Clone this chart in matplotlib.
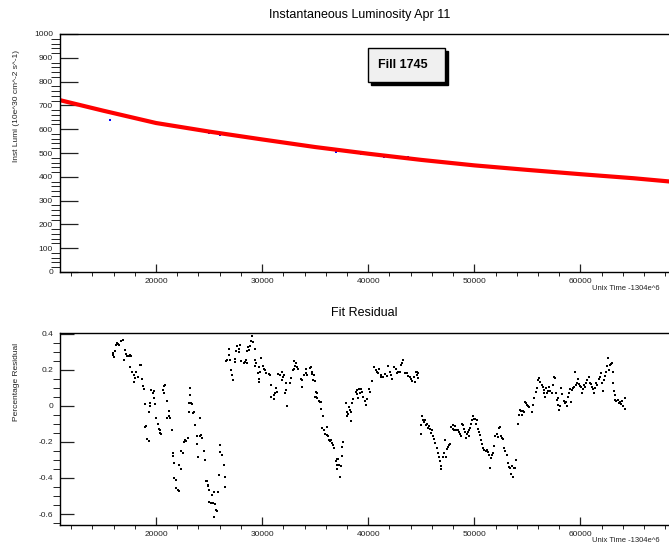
import matplotlib
matplotlib.use("Agg")
import matplotlib.pyplot as plt
from matplotlib.ticker import MultipleLocator, FuncFormatter
from matplotlib.patches import Rectangle

plt.rcParams['font.family'] = ['Liberation Sans', 'DejaVu Sans']
plt.rcParams['axes.unicode_minus'] = False

# fit of the luminosity (red line)
fit_time = [10950, 15000, 20000, 25000, 30000, 35000, 40000, 45000,
            50000, 55000, 60000, 65000, 68470]
fit_lumi = [722, 678, 626, 590, 557, 525, 497, 471, 448, 429, 411, 394, 380]

# measured points that poke out of the fit line (blue)
lumi_time = [15674, 15674, 16930, 22918, 24960, 26064, 29680, 32514, 36926,
             39287, 41487, 43754, 50781, 53142, 60444, 63372]
lumi_val = [639, 672, 661, 600, 583, 577, 560, 538, 505,
            496, 484, 482, 442, 434, 412, 405]

# fit residual in percent
res_time = [
    16871, 16682, 16461, 16304, 16241, 16556, 16147, 15989, 15926, 16052,
    17091, 17185, 17248, 17500, 17626, 17406, 16997, 17563, 18445, 18571,
    17721, 18130, 17878, 18256, 18035, 18665, 17941, 18759, 18822, 19515,
    19767, 19704, 20711, 20869, 20648, 20711, 19830, 21026, 18980, 19452,
    19389, 19924, 19295, 21183, 20019, 21183, 21341, 21026, 19074, 18980,
    20144, 20239, 20333, 20396, 20491, 21498, 19137, 19295,
    23167, 23230, 23072, 23292, 23387, 23072, 23481, 23607, 24174, 23702,
    23859, 24111, 24237, 24331, 22757, 22852, 22663, 22978, 22348, 22537,
    21592, 21592, 23859, 24552, 23922, 24646, 21718, 22191, 22348, 21718,
    21907, 21907, 22033, 22128, 24741, 24867, 24961,
    24804, 24899, 24962, 25277, 25434, 25025, 25214, 25340, 25591, 25654,
    25749, 25434, 25843, 26064, 26064, 26221, 26379, 25969, 26473, 26473,
    29054, 28991, 29117, 28896, 28676, 28739, 28582, 29306, 27952, 27637,
    27795, 27858, 27543, 26851, 26914, 26693, 27008, 26599, 27480, 27417,
    28047, 28267, 28362, 28487, 28582, 27103, 27165, 27228, 29369, 29432,
    29306, 29936, 29684, 29842, 30062, 30156, 30251, 30377, 29621, 29684,
    29747, 30692, 30786, 30881, 31321, 31416, 31259, 31101, 30881, 31101,
    31510, 31730, 31888, 32045, 32203, 31825, 32266, 32140, 32329, 31950,
    32675, 32580, 32990, 33211, 33085, 33305, 32990, 33400, 32895, 33620,
    33778, 33715, 33935, 34092, 34249, 34154, 34469, 34658, 34784, 34879,
    34973,
    34564, 34721, 34816, 34942, 35036, 35194, 35036, 35194, 35351, 35445,
    35571, 35508, 35760, 35666, 35823, 36075, 35886, 36075, 36201, 36296,
    36390, 36516, 36611, 36705, 36768, 37649, 37555, 37019, 37145, 36925,
    37019, 37240, 37460, 37082, 37334, 37555, 37870, 37964, 37964, 38090,
    38279, 38185, 38405, 38500, 38405, 38594, 38814, 38972, 39130, 39287,
    39444, 39224, 38908, 39035, 39538, 39664, 39759, 39916, 40073, 40168,
    40388, 40545, 40703, 40798, 40923, 41018, 41175, 41238, 41427, 41553,
    41742, 41868, 42058, 42184, 42278, 42435, 42593, 42687, 42813, 43002,
    43128, 43222, 43317, 43443, 43632, 43758, 43947, 44073, 44167, 44325,
    44387, 44576, 44702,
    44482, 44639, 44734, 44954, 45049, 44954, 45175, 45269, 45364, 45427,
    45584, 45678, 45741, 45804, 45899, 45993, 46056, 46213, 46308, 46434,
    46528, 46623, 46749, 46843, 46843, 47001, 47158, 47253, 47378, 47473,
    47567, 47693, 47315, 47788, 47945, 48008, 48103, 48197, 48260, 48418,
    48512, 48638, 48733, 48827, 48953, 49048, 49142, 49205, 49268, 49363,
    49457, 49520, 49583, 49677, 49772, 49897, 49992, 50086, 50212, 50149,
    50306, 50401, 50526, 50621, 50715, 50841, 50936, 51093, 51156, 51250,
    51408, 51471, 51565, 51660, 51785, 51880, 51974, 52100, 52195, 52352,
    52415, 52509, 52604, 52730, 52824, 52919, 53044, 53139, 53233, 53359,
    53454, 53548, 53674, 53769, 53863, 53926, 54083, 54178, 54304, 54398,
    54556, 54713, 54808,
    54399, 54462, 54777, 54871, 54966, 55092, 55186, 55407, 55501, 55658,
    55816, 55910, 56036, 56130, 56225, 56351, 56445, 56540, 56603, 56665,
    56760, 56855, 56980, 57075, 57169, 57295, 57390, 57484, 57610, 57705,
    57799, 57862, 57925, 58020, 58114, 58177, 58240, 58429, 58555, 58649,
    58744, 58870, 58964, 59059, 59185, 59122, 59279, 59373, 59499, 59594,
    59688, 59814, 59909, 60003, 60066, 60129, 60224, 60318, 60444, 60538,
    60633, 60759, 60853, 60948, 61073, 61168, 61262, 61388, 61483, 61577,
    61703, 61798, 61892, 62018, 62112, 62207, 62333, 62427, 62521, 62647,
    62742, 62836, 62962, 62584, 63057, 63057, 63151, 63214, 63277, 63371,
    63529, 63592, 63686, 63781, 63907, 64001, 64159, 64222,
]
res_val = [
    0.367, 0.358, 0.345, 0.348, 0.339, 0.335, 0.302, 0.293, 0.283, 0.270,
    0.307, 0.289, 0.278, 0.283, 0.278, 0.274, 0.252, 0.218, 0.224, 0.226,
    0.190, 0.185, 0.172, 0.162, 0.153, 0.147, 0.131, 0.110, 0.091, 0.088,
    0.084, 0.073, 0.110, 0.116, 0.088, 0.073, 0.041, 0.028, 0.010, 0.017,
    -0.002, 0.010, -0.033, -0.028, -0.065, -0.057, -0.070, -0.065, -0.113, -0.117,
    -0.102, -0.128, -0.132, -0.151, -0.158, -0.136, -0.182, -0.195,
    0.097, 0.060, 0.017, 0.013, 0.010, -0.033, -0.039, -0.033, -0.065, -0.108,
    -0.169, -0.169, -0.164, -0.177, -0.188, -0.197, -0.203, -0.177, -0.251, -0.262,
    -0.262, -0.281, -0.214, -0.251, -0.285, -0.299, -0.318, -0.326, -0.350, -0.400,
    -0.411, -0.456, -0.467, -0.474, -0.419, -0.443, -0.536,
    -0.419, -0.437, -0.467, -0.495, -0.480, -0.536, -0.540, -0.541, -0.545, -0.579,
    -0.582, -0.616, -0.476, -0.219, -0.257, -0.275, -0.326, -0.381, -0.396, -0.452,
    0.386, 0.358, 0.352, 0.334, 0.326, 0.307, 0.302, 0.315, 0.339, 0.334,
    0.315, 0.296, 0.302, 0.315, 0.283, 0.255, 0.252, 0.246, 0.259, 0.244,
    0.246, 0.240, 0.244, 0.252, 0.237, 0.200, 0.172, 0.144, 0.252, 0.237,
    0.222, 0.265, 0.214, 0.190, 0.222, 0.203, 0.199, 0.181, 0.181, 0.147,
    0.134, 0.177, 0.172, 0.116, 0.097, 0.078, 0.073, 0.060, 0.051, 0.036,
    0.175, 0.172, 0.185, 0.172, 0.125, 0.144, 0.088, 0.069, -0.002, 0.159,
    0.153, 0.129, 0.246, 0.240, 0.222, 0.214, 0.203, 0.203, 0.196, 0.147,
    0.144, 0.103, 0.172, 0.181, 0.172, 0.203, 0.209, 0.177, 0.144, 0.172,
    0.051,
    0.218, 0.190, 0.144, 0.140, 0.078, 0.073, 0.051, 0.041, 0.028, 0.023,
    0.023, -0.015, -0.057, -0.121, -0.132, -0.117, -0.158, -0.164, -0.169, -0.192,
    -0.195, -0.192, -0.207, -0.220, -0.233, -0.201, -0.229, -0.294, -0.294, -0.307,
    -0.326, -0.326, -0.331, -0.350, -0.393, -0.281, 0.017, -0.033, -0.057, -0.043,
    -0.024, -0.005, -0.033, 0.013, -0.084, 0.036, 0.078, 0.088, 0.092, 0.092,
    0.078, 0.073, 0.066, 0.041, 0.051, 0.028, 0.004, 0.036, 0.092, 0.078,
    0.140, 0.214, 0.196, 0.185, 0.181, 0.203, 0.172, 0.159, 0.162, 0.177,
    0.166, 0.222, 0.185, 0.172, 0.147, 0.214, 0.203, 0.181, 0.185, 0.190,
    0.227, 0.237, 0.255, 0.181, 0.181, 0.166, 0.159, 0.147, 0.140, 0.162,
    0.134, 0.185, 0.181,
    0.185, 0.172, 0.153, -0.108, -0.057, -0.158, -0.080, -0.089, -0.076, -0.108,
    -0.102, -0.121, -0.113, -0.126, -0.151, -0.132, -0.169, -0.182, -0.207, -0.232,
    -0.262, -0.285, -0.307, -0.331, -0.350, -0.285, -0.262, -0.192, -0.238, -0.229,
    -0.220, -0.214, -0.285, -0.117, -0.108, -0.126, -0.132, -0.113, -0.136, -0.132,
    -0.145, -0.158, -0.169, -0.098, -0.108, -0.126, -0.145, -0.177, -0.158, -0.145,
    -0.169, -0.136, -0.121, -0.098, -0.076, -0.057, -0.071, -0.071, -0.076, -0.098,
    -0.126, -0.145, -0.164, -0.188, -0.210, -0.232, -0.244, -0.251, -0.244, -0.257,
    -0.270, -0.344, -0.288, -0.275, -0.262, -0.225, -0.169, -0.158, -0.173, -0.121,
    -0.117, -0.169, -0.177, -0.182, -0.232, -0.251, -0.270, -0.318, -0.337, -0.344,
    -0.378, -0.331, -0.396, -0.344, -0.344, -0.303, -0.102, -0.052, -0.024, -0.028,
    -0.028, -0.033, 0.023,
    -0.028, -0.052, 0.023, 0.017, 0.004, -0.002, -0.009, -0.033, 0.004, 0.041,
    0.078, 0.097, 0.144, 0.153, 0.134, 0.116, 0.106, 0.088, 0.073, 0.051,
    0.097, 0.069, 0.084, 0.106, 0.084, 0.073, 0.116, 0.162, 0.153, 0.073,
    0.032, 0.041, 0.004, -0.024, -0.002, 0.097, 0.065, 0.028, 0.017, 0.023,
    -0.002, 0.051, 0.073, 0.092, 0.088, 0.023, 0.097, 0.106, 0.190, 0.116,
    0.129, 0.147, 0.121, 0.110, 0.103, 0.073, 0.092, 0.116, 0.106, 0.125,
    0.144, 0.159, 0.129, 0.121, 0.106, 0.092, 0.069, 0.097, 0.125, 0.116,
    0.147, 0.162, 0.181, 0.129, 0.084, 0.144, 0.166, 0.185, 0.222, 0.199,
    0.227, 0.233, 0.240, 0.267, 0.190, 0.129, 0.084, 0.060, 0.032, 0.028,
    0.032, 0.017, 0.023, 0.010, 0.028, -0.002, -0.015, 0.041,
]

W, H = 669, 545
fig = plt.figure(figsize=(W / 100, H / 100), dpi=100)


def style_axes(ax, ymaj, ymin, ylen):
    ax.spines['right'].set_visible(False)
    for s in ['top', 'left', 'bottom']:
        ax.spines[s].set_linewidth(1.0)
    ax.xaxis.set_major_locator(MultipleLocator(10000))
    ax.xaxis.set_minor_locator(MultipleLocator(2000))
    ax.yaxis.set_major_locator(MultipleLocator(ymaj))
    ax.yaxis.set_minor_locator(MultipleLocator(ymin))
    ax.tick_params(direction='in', width=0.9, labelsize=6, colors='#222222')
    ax.tick_params(axis='x', which='major', length=6, pad=4)
    ax.tick_params(axis='x', which='minor', length=3)
    ax.tick_params(axis='y', which='major', length=ylen, pad=5)
    ax.tick_params(axis='y', which='minor', length=ylen / 2)
    ax.tick_params(top=False, right=False, which='both')


# --- top pad: luminosity
ax1 = fig.add_axes([60 / W, 1 - 272 / H, 1 - 60 / W + 0.002, (272 - 34) / H])
ax1.plot(lumi_time, lumi_val, 's', color='blue', ms=1.8, mew=0)
ax1.plot(fit_time, fit_lumi, '-', color='red', lw=3)
ax1.set_xlim(10950, 68470)
ax1.set_ylim(0, 1000)
style_axes(ax1, 100, 20, 13)

# "Fill 1745" box with shadow
ax1.add_patch(Rectangle((371 / W, 1 - 85 / H), 77 / W, 34 / H, transform=fig.transFigure,
                        facecolor='black', edgecolor='black', zorder=5, clip_on=False))
ax1.add_patch(Rectangle((368 / W, 1 - 82 / H), 77 / W, 34 / H, transform=fig.transFigure,
                        facecolor='#f0f0f0', edgecolor='black', lw=1, zorder=6, clip_on=False))
fig.text(378 / W, 1 - 65 / H, 'Fill 1745', fontsize=9, fontweight='bold', va='center', zorder=7)

fig.text(360 / W, 1 - 15 / H, 'Instantaneous Luminosity Apr 11', fontsize=9, ha='center', va='center')
fig.text(17 / W, 1 - 50 / H, 'Inst Lumi (10e^30 cm^-2 s^-1)', fontsize=6, rotation=90,
         ha='center', va='top', color='#222222')
fig.text(660 / W, 1 - 289 / H, 'Unix Time -1304e^6', fontsize=5.5, ha='right', va='center',
         color='#222222')

# --- bottom pad: residual
ax2 = fig.add_axes([60 / W, 1 - 525 / H, 1 - 60 / W + 0.002, (525 - 333) / H])
ax2.plot(res_time, res_val, 's', color='black', ms=1.5, mew=0)
ax2.set_xlim(10950, 68470)
ax2.set_ylim(-0.661, 0.404)
style_axes(ax2, 0.2, 0.05, 10)
ax2.yaxis.set_major_formatter(FuncFormatter(lambda v, p: '%g' % round(v, 2)))

fig.text(364 / W, 1 - 313 / H, 'Fit Residual', fontsize=9, ha='center', va='center')
fig.text(17 / W, 1 - 343 / H, 'Percentage Residual', fontsize=6, rotation=90,
         ha='center', va='top', color='#222222')
fig.text(660 / W, 1 - 541 / H, 'Unix Time -1304e^6', fontsize=5.5, ha='right', va='center',
         color='#222222')

fig.savefig('out.png', dpi=100)
